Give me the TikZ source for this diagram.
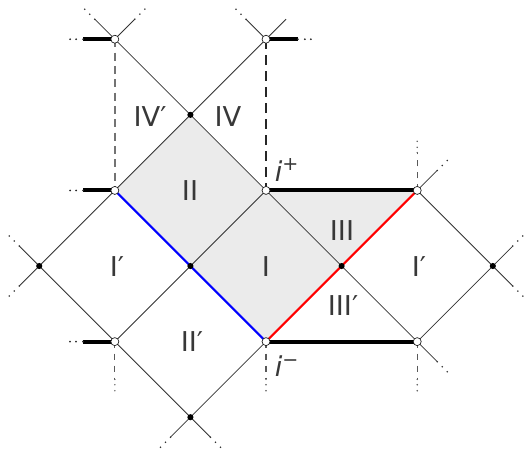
\documentclass[tikz,border=0pt]{standalone}
\usepackage{fontspec}
\setmainfont{DejaVu Sans}
\newcommand\extdots[3]{%
  \draw[thinline] (#1) -- ++({0.265*(#2)},{0.265*(#3)}) coordinate (tmpe);
  \draw[dotsline] (tmpe) -- ++({0.15*(#2)},{0.15*(#3)});}
\newcommand\hstub[2]{%
  \draw[thickline] (#1) -- ++({0.42*(#2)},0) coordinate (tmph);
  \draw[hdots] (tmph) -- ++({0.19*(#2)},0);}
\newcommand\vstub[2]{%
  \draw[vdash] (#1) -- ++(0,{0.5*(#2)}) coordinate (tmpv);
  \draw[vdots] (tmpv) -- ++(0,{0.2*(#2)});}
\begin{document}
\begin{tikzpicture}[x=56.7pt,y=56.7pt,
  thinline/.style={draw=black!80, line width=0.6pt},
  dotsline/.style={draw=black!80, line width=1.3pt, line cap=round,
    dash pattern=on 0pt off 5.3pt on 0pt off 5.3pt on 0pt off 50pt},
  hdots/.style={draw=black!85, line width=1.5pt, line cap=round,
    dash pattern=on 0pt off 5.25pt on 0pt off 4.5pt on 0pt off 50pt},
  vdash/.style={draw=black!65, line width=0.8pt, dash pattern=on 5pt off 4pt},
  vdots/.style={draw=black!65, line width=1.2pt, line cap=round,
    dash pattern=on 0pt off 4pt on 0pt off 4.5pt on 0pt off 50pt},
  thickline/.style={draw=black, line width=3pt},
  graydash/.style={draw=black!55, line width=1.1pt, dash pattern=on 6pt off 4pt},
  darkdash/.style={draw=black!85, line width=1.8pt, dash pattern=on 7pt off 5pt},
  region/.style={fill=black!8},
  opendot/.style={circle, draw=black!90, fill=white, line width=0.5pt, inner sep=0pt, minimum size=6pt},
  fulldot/.style={circle, fill=black, inner sep=0pt, minimum size=4.6pt},
  lab/.style={text=black!78, font=\fontsize{20.5}{24}\selectfont, inner sep=0pt}
]
\useasboundingbox (-3.519,3.519) rectangle (3.439,-2.434);
% vertices
\coordinate (t1) at (-2,3);
\coordinate (t2) at (0,3);
\coordinate (k)  at (-1,2);
\coordinate (a1) at (-2,1);
\coordinate (a2) at (0,1);
\coordinate (a3) at (2,1);
\coordinate (b0) at (-3,0);
\coordinate (b1) at (-1,0);
\coordinate (b2) at (1,0);
\coordinate (b3) at (3,0);
\coordinate (c1) at (-2,-1);
\coordinate (c2) at (0,-1);
\coordinate (c3) at (2,-1);
\coordinate (d)  at (-1,-2);
% shaded regions
\fill[region] (b1) -- (a2) -- (b2) -- (c2) -- cycle;
\fill[region] (a1) -- (k) -- (a2) -- (b1) -- cycle;
\fill[region] (a2) -- (a3) -- (b2) -- cycle;
% dashed verticals
\draw[graydash] (t1) -- (a1);
\draw[darkdash] (t2) -- (a2);
\vstub{a3}{1}
\vstub{c1}{-1}
\vstub{c2}{-1}
\vstub{c3}{-1}
% null lines
\draw[thinline] (t1) -- (c3);
\draw[thinline] (t2) -- (b0);
\draw[thinline] (b0) -- (d);
\draw[thinline] (d) -- (c2);
\draw[thinline] (c1) -- (a2);
\draw[thinline] (a3) -- (b3) -- (c3);
% extensions
\extdots{t1}{-1}{1}
\extdots{t1}{1}{1}
\extdots{t2}{-1}{1}
\draw[thinline] (t2) -- ++(0.265,0.265);
\extdots{b0}{-1}{1}
\extdots{b0}{-1}{-1}
\extdots{b3}{1}{1}
\extdots{b3}{1}{-1}
\extdots{a3}{1}{1}
\extdots{c3}{1}{-1}
\extdots{d}{-1}{-1}
\extdots{d}{1}{-1}
% coloured horizons
\draw[blue, line width=1.5pt] (a1) -- (c2);
\draw[red, line width=1.5pt] (c2) -- (a3);
% thick lines
\draw[thickline] (a2) -- (a3);
\draw[thickline] (c2) -- (c3);
\hstub{t1}{-1}
\hstub{t2}{1}
\hstub{a1}{-1}
\hstub{c1}{-1}
% markers
\node[opendot] (mt1) at (t1) {};
\node[opendot] (mt2) at (t2) {};
\node[opendot] (ma1) at (a1) {};
\node[opendot] (ma2) at (a2) {};
\node[opendot] (ma3) at (a3) {};
\node[opendot] (mc1) at (c1) {};
\node[opendot] (mc2) at (c2) {};
\node[opendot] (mc3) at (c3) {};
\node[fulldot] (mk) at (k) {};
\node[fulldot] (mb0) at (b0) {};
\node[fulldot] (mb1) at (b1) {};
\node[fulldot] (mb2) at (b2) {};
\node[fulldot] (mb3) at (b3) {};
\node[fulldot] (md) at (d) {};
% labels
\node[lab] (lIVp) at (-1.534,1.971) {IV′};
\node[lab] (lIV) at (-0.503,1.971) {IV};
\node[lab] (lII) at (-1.005,1.005) {II};
\node[lab] (lip) at (0.278,1.270) {\itshape i\/\textsuperscript{\upshape +}};
\node[lab] (lIII) at (1.005,0.476) {III};
\node[lab] (lIpL) at (-1.971,-0.013) {I′};
\node[lab] (lI) at (0,-0.013) {I};
\node[lab] (lIpR) at (2.024,-0.013) {I′};
\node[lab] (lIIIp) at (1.019,-0.529) {III′};
\node[lab] (lIIp) at (-0.979,-1.005) {II′};
\node[lab] (lim) at (0.278,-1.323) {\itshape i\/\textsuperscript{\upshape −}};
\end{tikzpicture}
\end{document}
